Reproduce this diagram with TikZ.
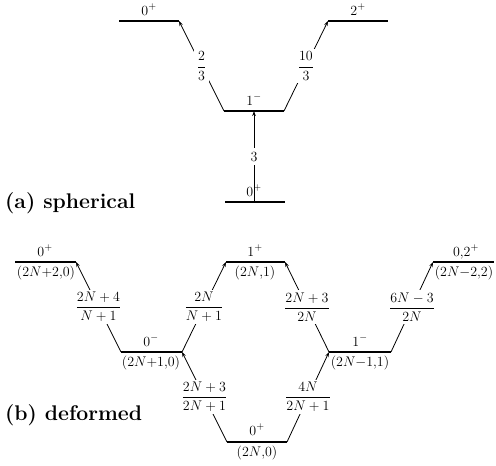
\RequirePackage{fix-cm}
\documentclass[tikz,border=0pt]{standalone}
\usepackage{amsmath}
\usetikzlibrary{arrows.meta}
\begin{document}
\begin{tikzpicture}[x=1pt,y=-1pt,
  lvl/.style={line width=1.6pt},
  trans/.style={line width=0.8pt,-{Stealth[length=5pt,width=3.6pt]}},
  rate/.style={fill=white,inner sep=2.5pt,font=\fontsize{14}{16}\selectfont},
  lab/.style={font=\fontsize{14}{16}\selectfont,inner sep=0pt},
  qn/.style={font=\fontsize{14}{16}\selectfont,inner sep=0pt,anchor=north},
  ttl/.style={font=\fontsize{21.2}{25}\selectfont\bfseries,anchor=base west,inner sep=0pt}]
\useasboundingbox (0,0) rectangle (496,466);

% ---------- (a) spherical ----------
\coordinate (aL) at (119,21);  \coordinate (aR) at (179,21);
\coordinate (bL) at (328,21);  \coordinate (bR) at (388,21);
\coordinate (cL) at (224,111); \coordinate (cR) at (284,111);
\coordinate (cC) at (254,111);
\coordinate (dL) at (225,202); \coordinate (dR) at (285,202);
\coordinate (dC) at (254,202);

\draw[lvl] (aL) -- (aR);
\draw[lvl] (bL) -- (bR);
\draw[lvl] (cL) -- (cR);
\draw[lvl] (dL) -- (dR);

\node[lab,anchor=base] (la) at (149,15) {$0^+$};
\node[lab,anchor=base] (lb) at (358,15) {$2^+$};
\node[lab,anchor=base] (lc) at (254,105) {$1^-$};
\node[lab,anchor=base] (ld) at (254,196) {$0^+$};

\draw[trans] (cL) -- node[rate] (r1) {$\dfrac{2}{3}$} (aR);
\draw[trans] (cR) -- node[rate] (r2) {$\dfrac{10}{3}$} (bL);
\draw[trans] (dC) -- node[rate,inner sep=4pt] (r3) {$3$} (cC);

\node[ttl] (ta) at (5,208) {(a) spherical};

% ---------- (b) deformed ----------
\coordinate (eL) at (15,262);  \coordinate (eR) at (76,262);
\coordinate (fL) at (121,352); \coordinate (fR) at (182,352);
\coordinate (gL) at (226,262); \coordinate (gR) at (285,262);
\coordinate (hL) at (329,352); \coordinate (hR) at (391,352);
\coordinate (iL) at (433,262); \coordinate (iR) at (494,262);
\coordinate (jL) at (227,442); \coordinate (jR) at (287,442);

\foreach \p in {e,f,g,h,i,j} {\draw[lvl] (\p L) -- (\p R);}

\node[lab,anchor=base] (le) at (45,256) {$0^+$};
\node[qn] (qe) at (46,266) {$(2N{+}2{,}0)$};
\node[lab,anchor=base] (lf) at (151,346) {$0^-$};
\node[qn] (qf) at (151,356) {$(2N{+}1{,}0)$};
\node[lab,anchor=base] (lg) at (255,256) {$1^+$};
\node[qn] (qg) at (255,266) {$(2N{,}1)$};
\node[lab,anchor=base] (lh) at (360,346) {$1^-$};
\node[qn] (qh) at (360,356) {$(2N{-}1{,}1)$};
\node[lab,anchor=base] (li) at (466,256) {$0{,}2^+$};
\node[qn] (qi) at (464,266) {$(2N{-}2{,}2)$};
\node[lab,anchor=base] (lj) at (257,435) {$0^+$};
\node[qn] (qj) at (257,446) {$(2N{,}0)$};

\draw[trans] (fL) -- node[rate] (s1) {$\dfrac{2N+4}{N+1}$} (eR);
\draw[trans] (fR) -- node[rate] (s2) {$\dfrac{2N}{N+1}$} (gL);
\draw[trans] (hL) -- node[rate] (s3) {$\dfrac{2N+3}{2N}$} (gR);
\draw[trans] (hR) -- node[rate] (s4) {$\dfrac{6N-3}{2N}$} (iL);
\draw[trans] (jL) -- node[rate] (s5) {$\dfrac{2N+3}{2N+1}$} (fR);
\draw[trans] (jR) -- node[rate] (s6) {$\dfrac{4N}{2N+1}$} (hL);

\node[ttl] (tb) at (5,420) {(b) deformed};
\end{tikzpicture}
\end{document}
